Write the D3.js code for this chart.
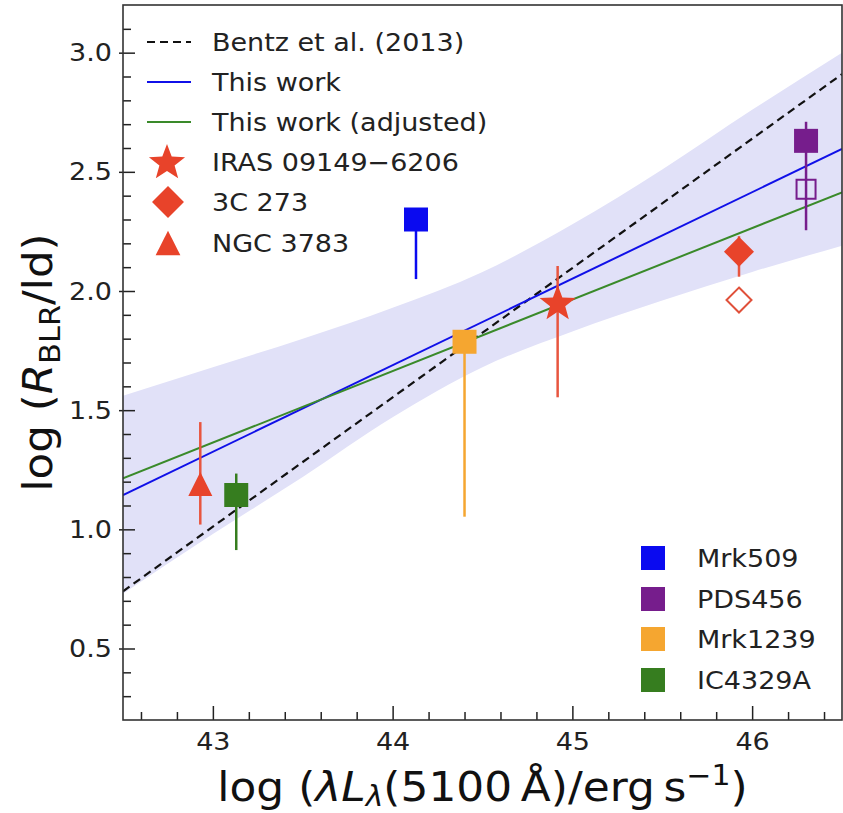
<!DOCTYPE html>
<html><head><meta charset="utf-8">
<script src="https://cdn.jsdelivr.net/npm/d3@7"></script>
<style>body{margin:0;background:#fff}svg{display:block}text{font-family:"DejaVu Sans",sans-serif}</style>
</head><body><svg id="c" width="843" height="813"></svg>
<script>
// ---- data ----
const fitX = [42.5, 46.5];
const bentzY = [0.74, 2.91];
const thisWorkY = [1.144, 2.596];
const adjustedY = [1.214, 2.414];

const bandX  = [42.5, 43.0, 43.5, 44.0, 44.5, 45.0, 45.5, 46.0, 46.5];
const bandLo = [0.73, 0.98, 1.22, 1.47, 1.68, 1.83, 1.96, 2.08, 2.19];
const bandHi = [1.56, 1.68, 1.80, 1.93, 2.08, 2.28, 2.51, 2.76, 3.00];

const sampleNames = ["Mrk509", "PDS456", "Mrk1239", "IC4329A"];
const sampleColors = ["#0a0af0", "#761d8c", "#f5a630", "#367d1f"];
const sampleX = [44.13, 46.30, 44.40, 43.13];
const sampleY = [2.30, 2.63, 1.787, 1.144];
const sampleErrLo = [0.25, 0.375, 0.734, 0.231];
const sampleErrHi = [0.0, 0.08, 0.02, 0.09];
const openSampleX = [46.30];
const openSampleY = [2.427];

const refNames = ["IRAS 09149\u22126206", "3C 273", "NGC 3783"];
const refShapes = ["star", "diamond", "triangle"];
const refX = [44.918, 45.927, 42.93];
const refY = [1.946, 2.165, 1.19];
const refErrLo = [0.392, 0.105, 0.17];
const refErrHi = [0.159, 0.065, 0.26];
const openRefX = [45.927];
const openRefY = [1.962];

const xTicks = [43, 44, 45, 46];
const yTicks = [0.5, 1.0, 1.5, 2.0, 2.5, 3.0];

// ---- layout ----
const L = 123, R = 842, T = 5, B = 720;
const x = d3.scaleLinear().domain([42.5, 46.5]).range([L, R]);
const y = d3.scaleLinear().domain([0.2, 3.2]).range([B, T]);
const svg = d3.select("#c");
const red = "#e8432a";
const FS = 25, SX = 1.08;

svg.append("defs").append("clipPath").attr("id", "clip")
  .append("rect").attr("x", L).attr("y", T).attr("width", R - L).attr("height", B - T);
const g = svg.append("g").attr("clip-path", "url(#clip)");

// band
g.append("path")
  .datum(bandX.map((v, i) => [v, bandLo[i], bandHi[i]]))
  .attr("fill", "#e1e1f8")
  .attr("d", d3.area().x(d => x(d[0])).y0(d => y(d[1])).y1(d => y(d[2])).curve(d3.curveMonotoneX));

const line = d3.line().x(d => x(d[0])).y(d => y(d[1]));
const fits = [
  {ys: bentzY, color: "#111", dash: "8,5", w: 2.2},
  {ys: thisWorkY, color: "#1010e8", dash: null, w: 2},
  {ys: adjustedY, color: "#3a8a2a", dash: null, w: 2}
];
fits.forEach(f => {
  g.append("path").datum(fitX.map((v, i) => [v, f.ys[i]]))
    .attr("fill", "none").attr("stroke", f.color).attr("stroke-width", f.w)
    .attr("stroke-dasharray", f.dash).attr("d", line);
});

// shapes
function starPath(R0) {
  const r0 = R0 * 0.42; let p = [];
  for (let i = 0; i < 10; i++) {
    const a = -Math.PI / 2 + i * Math.PI / 5, rr = i % 2 ? r0 : R0;
    p.push([rr * Math.cos(a), rr * Math.sin(a)]);
  }
  return "M" + p.map(q => q.join(",")).join("L") + "Z";
}
function diamondPath(h) { return `M0,${-h}L${h},0L0,${h}L${-h},0Z`; }
function triPath(h) { return `M0,${-h}L${h},${h}L${-h},${h}Z`; }
function squarePath(h) { return `M${-h},${-h}H${h}V${h}H${-h}Z`; }
function shapePath(s, scale) {
  if (s === "star") return starPath(19 * scale);
  if (s === "diamond") return diamondPath(15.5 * scale);
  return triPath(12 * scale);
}

// error bars
sampleX.forEach((v, i) => {
  g.append("line").attr("x1", x(v)).attr("x2", x(v))
    .attr("y1", y(sampleY[i] - sampleErrLo[i])).attr("y2", y(sampleY[i] + sampleErrHi[i]))
    .attr("stroke", sampleColors[i]).attr("stroke-width", 2.5);
});
refX.forEach((v, i) => {
  g.append("line").attr("x1", x(v)).attr("x2", x(v))
    .attr("y1", y(refY[i] - refErrLo[i])).attr("y2", y(refY[i] + refErrHi[i]))
    .attr("stroke", "#e8553f").attr("stroke-width", 2.5);
});
// open markers
openSampleX.forEach((v, i) => {
  g.append("path").attr("transform", `translate(${x(v)},${y(openSampleY[i])})`)
    .attr("d", squarePath(9.5)).attr("fill", "none").attr("stroke", sampleColors[1]).attr("stroke-width", 2);
});
openRefX.forEach((v, i) => {
  g.append("path").attr("transform", `translate(${x(v)},${y(openRefY[i])})`)
    .attr("d", diamondPath(12.5)).attr("fill", "none").attr("stroke", "#e0503a").attr("stroke-width", 2);
});
// filled markers
sampleX.forEach((v, i) => {
  g.append("path").attr("transform", `translate(${x(v)},${y(sampleY[i])})`)
    .attr("d", squarePath(12)).attr("fill", sampleColors[i]);
});
refX.forEach((v, i) => {
  g.append("path").attr("transform", `translate(${x(v)},${y(refY[i])})`)
    .attr("d", shapePath(refShapes[i], i === 1 ? 0.97 : 1)).attr("fill", red);
});

// axes
const axCol = "#222";
const xMinor = d3.range(42.6, 46.45, 0.2).filter(v => Math.abs(v - Math.round(v)) > 0.01);
const yMinor = d3.range(0.3, 3.15, 0.1).filter(v => Math.abs(v * 2 - Math.round(v * 2)) > 0.01);
const xa = svg.append("g").attr("transform", `translate(0,${B})`)
  .call(d3.axisBottom(x).tickValues(xTicks).tickFormat(d3.format("d")).tickSizeInner(-14).tickSizeOuter(0).tickPadding(12));
const xm = svg.append("g").attr("transform", `translate(0,${B})`)
  .call(d3.axisBottom(x).tickValues(xMinor).tickFormat("").tickSizeInner(-8).tickSizeOuter(0));
const ya = svg.append("g").attr("transform", `translate(${L},0)`)
  .call(d3.axisLeft(y).tickValues(yTicks).tickFormat(d3.format(".1f")).tickSizeInner(-12).tickSizeOuter(0).tickPadding(11));
ya.selectAll(".tick line").attr("x1", -4);
const ym = svg.append("g").attr("transform", `translate(${L},0)`)
  .call(d3.axisLeft(y).tickValues(yMinor).tickFormat("").tickSizeInner(-8).tickSizeOuter(0));
[xa, xm, ya, ym].forEach(a => {
  a.select(".domain").remove();
  a.selectAll(".tick line").attr("stroke", axCol).attr("stroke-width", 1.5);
});
// stretch tick labels slightly
xa.selectAll(".tick text").each(function () {
  const t = d3.select(this);
  t.attr("font-size", FS).attr("fill", "#222").attr("font-family", "DejaVu Sans")
   .attr("transform", `scale(${SX},1)`).attr("x", 0);
});
ya.selectAll(".tick text").each(function () {
  const t = d3.select(this);
  const x0 = +t.attr("x");
  t.attr("font-size", FS).attr("fill", "#222").attr("font-family", "DejaVu Sans")
   .attr("transform", `scale(${SX},1)`).attr("x", x0 / SX);
});
svg.append("rect").attr("x", L).attr("y", T).attr("width", R - L).attr("height", B - T)
  .attr("fill", "none").attr("stroke", "#333").attr("stroke-width", 1.6);

// axis labels
const xl = svg.append("text").attr("transform", `translate(${(L + R) / 2},801) scale(1.07,1)`)
  .attr("text-anchor", "middle").attr("font-size", 41).attr("fill", "#111");
xl.append("tspan").text("log (");
xl.append("tspan").attr("font-style", "italic").text("\u03bbL");
xl.append("tspan").attr("font-size", 28).attr("dy", 5).attr("font-style", "italic").text("\u03bb");
xl.append("tspan").attr("dy", -5).text("(5100\u2009\u00c5)/erg\u2009s");
xl.append("tspan").attr("font-size", 28).attr("dy", -16).text("\u22121");
xl.append("tspan").attr("dy", 16).text(")");

const yl = svg.append("text").attr("transform", `translate(52,${(T + B) / 2}) rotate(-90) scale(1.09,1)`)
  .attr("text-anchor", "middle").attr("font-size", 40).attr("fill", "#111");
yl.append("tspan").text("log (");
yl.append("tspan").attr("font-style", "italic").text("R");
yl.append("tspan").attr("font-size", 28).attr("dy", 8).text("BLR");
yl.append("tspan").attr("dy", -8).text("/ld)");

// legend top-left
const lg = svg.append("g");
const legY = [42, 82, 122, 162, 202, 243];
const legLabels = ["Bentz et al. (2013)", "This work", "This work (adjusted)"].concat(refNames);
fits.forEach((f, i) => {
  lg.append("line").attr("x1", 147).attr("x2", 191).attr("y1", legY[i]).attr("y2", legY[i])
    .attr("stroke", f.color).attr("stroke-width", f.w).attr("stroke-dasharray", f.dash);
});
refShapes.forEach((s, i) => {
  lg.append("path").attr("transform", `translate(${i === 0 ? 167 : 168},${legY[i + 3] + (i === 0 ? 1 : 0)})`)
    .attr("d", shapePath(s, i === 0 ? 1.0 : 1.03)).attr("fill", red);
});
legLabels.forEach((t, i) => {
  lg.append("text").attr("transform", `translate(212,${legY[i]}) scale(${SX},1)`).attr("dy", "0.36em")
    .attr("font-size", FS).attr("fill", "#222").text(t);
});

// legend bottom-right
const lg2 = svg.append("g");
const leg2Y = [558, 599, 639, 680];
sampleNames.forEach((n, i) => {
  lg2.append("path").attr("transform", `translate(653,${leg2Y[i]})`).attr("d", squarePath(12)).attr("fill", sampleColors[i]);
  lg2.append("text").attr("transform", `translate(697,${leg2Y[i]}) scale(${SX},1)`).attr("dy", "0.36em")
    .attr("font-size", FS).attr("fill", "#222").text(n);
});
</script></body></html>
